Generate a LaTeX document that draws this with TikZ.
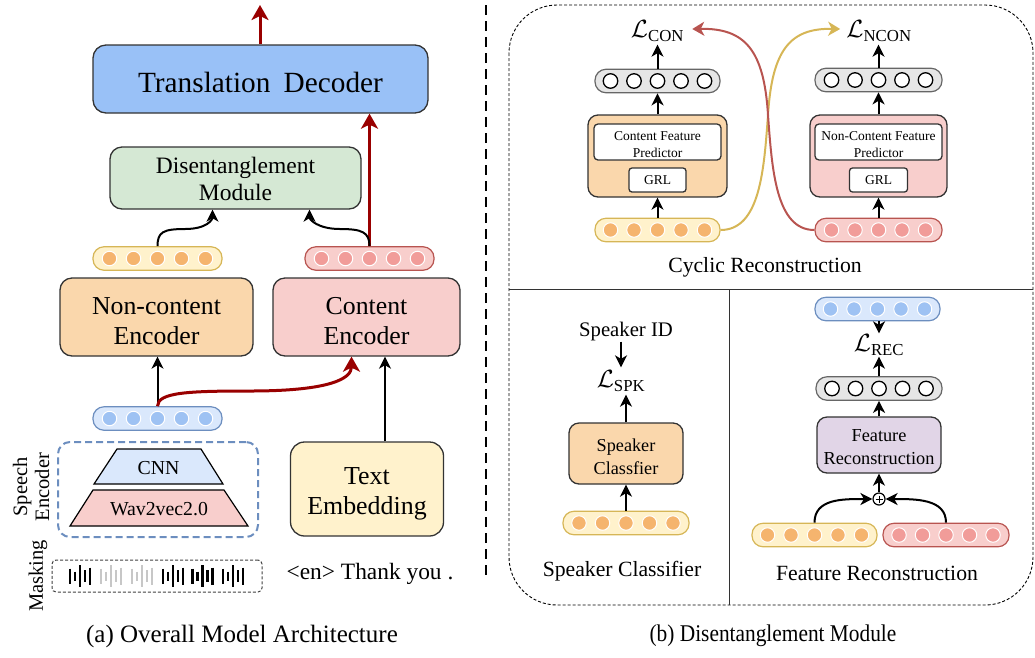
\documentclass[tikz,border=0pt]{standalone}
\usepackage{fontspec}
\setmainfont{Liberation Serif}
\usetikzlibrary{arrows.meta,calc}
\definecolor{decblue}{HTML}{99C1F7}
\definecolor{dgreen}{HTML}{D5E8D4}
\definecolor{borange}{HTML}{FAD7AC}
\definecolor{bpink}{HTML}{F8CECC}
\definecolor{byel}{HTML}{FFF2CC}
\definecolor{bpurple}{HTML}{E1D5E7}
\definecolor{lblue}{HTML}{DAE8FC}
\definecolor{yelD}{HTML}{D6B656}
\definecolor{pinkD}{HTML}{B85450}
\definecolor{blueD}{HTML}{6C8EBF}
\definecolor{grayF}{HTML}{E6E6E6}
\definecolor{grayD}{HTML}{666666}
\definecolor{cyel}{HTML}{F5B46E}
\definecolor{cpink}{HTML}{F19C99}
\definecolor{cblue}{HTML}{9EC2F3}
\definecolor{dred}{HTML}{990000}
\definecolor{boxline}{HTML}{333333}
\newcommand\featvec[5]{%
  \node[vecbox,#3vec,minimum width=#4] (#1) at (#2) {};
  \foreach \k [count=\c] in {-2,...,2}{\node[dot,#3dot] (#1-\c) at ($(#1.center)+(\k*#5,0)$) {};}
}
\newcommand\wavegroup[3]{% x, color, name
  \begin{scope}[shift={(#1,576)},line width=2.4pt,draw=#2]
    \draw (0,-7.5) -- (0,7.5);
    \draw (5,-4.5) -- (5,4.5);
    \draw (10,-11) -- (10,11);
    \draw (15,-6) -- (15,6);
    \draw (20,-8.5) -- (20,8.5);
  \end{scope}
  \coordinate (#3) at (#1+10,576);
}
\begin{document}
\begin{tikzpicture}[x=1pt,y=-1pt,
  blk/.style={draw=boxline,line width=1.3pt,rounded corners=10pt,align=center,inner sep=0pt},
  btxt/.style={align=center,inner sep=0pt},
  vecbox/.style={rounded corners=11pt,minimum height=23.5pt,inner sep=0pt,line width=1.2pt},
  yvec/.style={fill=byel,draw=yelD},
  pvec/.style={fill=bpink,draw=pinkD},
  bvec/.style={fill=lblue,draw=blueD},
  gvec/.style={fill=grayF,draw=grayD},
  dot/.style={circle,inner sep=0pt,minimum size=14.5pt},
  ydot/.style={fill=cyel,draw=white,line width=1pt},
  pdot/.style={fill=cpink,draw=white,line width=1pt},
  bdot/.style={fill=cblue,draw=white,line width=1pt},
  gdot/.style={fill=white,draw=black,line width=1.3pt},
  arr/.style={line width=2pt,-{Stealth[length=12pt,width=12pt,inset=3.5pt]}},
  rarr/.style={draw=dred,line width=3pt,-{Stealth[length=15pt,width=17pt,inset=4pt]}},
  carr/.style={line width=2pt,-{Stealth[length=12pt,width=14pt,inset=3.5pt]}},
  lab/.style={inner sep=0pt,font=\fontsize{21.7}{26}\selectfont},
  loss/.style={inner sep=3pt,font=\fontsize{24}{28}\selectfont},
]
\useasboundingbox (0,0) rectangle (1035,657);

% ================= LEFT PANEL =================
\node[blk,fill=decblue,rounded corners=13pt,minimum width=335pt,minimum height=68pt] (dec) at (260.5,79) {};
\node[btxt,font=\fontsize{29.3}{34}\selectfont] (dect) at (260.5,82) {Translation\hspace{0.45em}Decoder};
\coordinate (out) at (260,5);
\draw[rarr] (dec.north -| out) -- (out);

\node[blk,fill=dgreen,rounded corners=12pt,minimum width=251pt,minimum height=62pt] (dis) at (235.5,178) {};
\node[btxt,font=\fontsize{23.5}{27}\selectfont] (dist) at (235.5,179) {Disentanglement\\Module};

\featvec{yv1}{157.5,258.5}{y}{129pt}{24}
\featvec{pv1}{369.5,258.5}{p}{129pt}{24}

\node[blk,fill=borange,rounded corners=12pt,minimum width=193pt,minimum height=78pt] (nce) at (156.5,317) {};
\node[btxt,font=\fontsize{25.8}{30}\selectfont] (ncet) at (156.5,321) {Non-content\\Encoder};
\node[blk,fill=bpink,rounded corners=12pt,minimum width=187pt,minimum height=78pt] (ce) at (366.5,317) {};
\node[btxt,font=\fontsize{25.8}{30}\selectfont] (cet) at (366.5,321) {Content\\Encoder};

\draw[rarr] (pv1.north) -- (pv1.north |- dec.south);
\draw[arr] (yv1.north) .. controls +(0,-14) and +(-22,0) .. (185,229) .. controls +(22,0) and +(0,10) .. ($(dis.south)+(-23,0)$);
\draw[arr] (pv1.north) .. controls +(0,-14) and +(22,0) .. (340,229) .. controls +(-22,0) and +(0,10) .. ($(dis.south)+(74,0)$);

\featvec{bv}{157.5,418.5}{b}{129pt}{24}
\draw[arr] (bv.north) -- (bv.north |- nce.south);
\draw[rarr] (bv.north) .. controls +(0,-14) and +(-60,0) .. (250,391) .. controls +(80,0) and +(0,22) .. ($(ce.south)+(-15,0)$);

% speech encoder
\node[draw=blueD,dashed,dash pattern=on 7pt off 4pt,line width=2pt,rounded corners=12pt,minimum width=200pt,minimum height=95pt] (spenc) at (158,489.5) {};
\filldraw[fill=lblue,draw=black,line width=1.2pt] (117,449) -- (201,449) -- (223,484) -- (94,484) -- cycle;
\node[inner sep=0pt,font=\fontsize{19.8}{23}\selectfont] (cnn) at (158.5,468) {CNN};
\filldraw[fill=bpink,draw=black,line width=1.2pt] (93,490) -- (224,490) -- (248,526) -- (70,526) -- cycle;
\node[inner sep=0pt,font=\fontsize{19.8}{23}\selectfont] (w2v) at (159,509) {Wav2vec2.0};
\node[rotate=90,align=center,inner sep=0pt,font=\fontsize{20.5}{22}\selectfont] (splab) at (31,487) {Speech\\Encoder};
\node[rotate=90,inner sep=0pt,font=\fontsize{20.5}{22}\selectfont] (masklab) at (38,576) {Masking};

% masking
\node[draw=black!75,dashed,dash pattern=on 3pt off 2pt,line width=1pt,rounded corners=4pt,minimum width=210pt,minimum height=32pt] (mask) at (157,576) {};
\wavegroup{70}{black}{w1}
\wavegroup{101}{black!22}{w2}
\wavegroup{132}{black!22}{w3}
\wavegroup{163}{black}{w4}
\wavegroup{192.5}{black}{w5}
\wavegroup{223}{black}{w6}

% text embedding
\node[blk,fill=byel,rounded corners=14pt,minimum width=153pt,minimum height=94pt] (te) at (367,489) {};
\node[btxt,font=\fontsize{25.9}{30}\selectfont] (tet) at (367,494) {Text\\Embedding};
\path ($(te.north)+(18,0)$) coordinate (teo);
\draw[arr] (teo) -- (teo |- ce.south);
\node[inner sep=0pt,font=\fontsize{23.4}{26}\selectfont] (txt) at (370,574) {<en> Thank you .};

\node[inner sep=0pt,font=\fontsize{25}{29}\selectfont] (capa) at (242,636) {(a) Overall Model Architecture};

% separator
\coordinate (sepT) at (486,5);
\coordinate (sepB) at (486,580);
\draw[line width=1.5pt,dash pattern=on 10pt off 6pt] (sepT) -- (sepB);

% ================= RIGHT PANEL =================
\draw[line width=0.9pt,dash pattern=on 3pt off 2pt,rounded corners=48pt] (509,5) rectangle (1033,605);
\coordinate (hl) at (509,289);
\coordinate (hr) at (1033,289);
\coordinate (vb) at (729,605);
\draw[line width=1pt,black!80] (hl) -- (hr);
\draw[line width=1pt,black!80] (hl -| vb) -- (vb);

% cyclic reconstruction - content
\node[blk,fill=borange,minimum width=139pt,minimum height=82pt] (cbox) at (657.5,156) {};
\node[blk,fill=white,rounded corners=4pt,minimum width=127pt,minimum height=36pt] (cin) at (657.5,142) {};
\node[btxt,font=\fontsize{13.5}{17}\selectfont] (cint) at (657.5,144.5) {Content Feature\\Predictor};
\node[blk,fill=white,rounded corners=3pt,minimum width=57pt,minimum height=24pt,font=\fontsize{13.5}{16}\selectfont] (cgrl) at (657.5,180) {GRL};
\featvec{cg}{657.5,81}{g}{125pt}{23.5}
\featvec{cy}{657.5,230}{y}{125pt}{23.5}
\node[loss] (lcon) at (657.5,31) {$\mathcal{L}_{\mathrm{CON}}$};
\draw[arr] (cy.north) -- (cy.north |- cbox.south);
\draw[arr] (cbox.north) -- (cbox.north |- cg.south);
\draw[arr] (cg.north) -- (cg.north |- lcon.south);

% cyclic reconstruction - non-content
\node[blk,fill=bpink,minimum width=137pt,minimum height=82pt] (pbox) at (878.5,156) {};
\node[blk,fill=white,rounded corners=4pt,minimum width=127pt,minimum height=36pt] (pin) at (878.5,142) {};
\node[btxt,font=\fontsize{13.5}{17}\selectfont] (pint) at (878.5,144.5) {Non-Content Feature\\Predictor};
\node[blk,fill=white,rounded corners=3pt,minimum width=58pt,minimum height=24pt,font=\fontsize{13.5}{16}\selectfont] (pgrl) at (878.5,180) {GRL};
\featvec{pg}{878.5,80}{g}{127pt}{23.5}
\featvec{pp}{878.5,230}{p}{127pt}{23.5}
\node[loss] (lncon) at (879,31) {$\mathcal{L}_{\mathrm{NCON}}$};
\draw[arr] (pp.north) -- (pp.north |- pbox.south);
\draw[arr] (pbox.north) -- (pbox.north |- pg.south);
\draw[arr] (pg.north) -- (pg.north |- lncon.south);

\draw[carr,draw=yelD] (cy.east) .. controls (760,230) and (764,170) .. (768,115) .. controls (772,50) and (790,28) .. ($(lncon.west)+(-3,-2)$);
\draw[carr,draw=pinkD] (pp.west) .. controls (776,230) and (772,170) .. (768,115) .. controls (764,50) and (745,28) .. ($(lcon.east)+(5,-2)$);

\node[lab] (cyc) at (765,267) {Cyclic Reconstruction};

% speaker classifier
\node[inner sep=0pt,font=\fontsize{20.7}{24}\selectfont] (spkid) at (626,332) {Speaker ID};
\node[loss] (lspk) at (621,381) {$\mathcal{L}_{\mathrm{SPK}}$};
\draw[arr] (spkid.south -| lspk) -- (lspk.north);
\node[blk,fill=borange,minimum width=114pt,minimum height=61pt] (sbox) at (626,453.5) {};
\node[btxt,font=\fontsize{18.2}{23}\selectfont] (sboxt) at (626,456.5) {Speaker\\Classfier};
\featvec{sy}{626,523}{y}{126pt}{23.5}
\draw[arr] (sy.north) -- (sbox.south);
\draw[arr] (sbox.north) -- (sbox.north |- lspk.south);
\node[lab] (spklab) at (622,571) {Speaker Classifier};

% feature reconstruction
\featvec{rb}{877.5,309}{b}{125pt}{23.5}
\node[loss,inner sep=1pt] (lrec) at (879,345) {$\mathcal{L}_{\mathrm{REC}}$};
\featvec{rg}{879,388.5}{g}{126pt}{23.5}
\node[blk,fill=bpurple,minimum width=124pt,minimum height=56pt] (fbox) at (879,445) {};
\node[btxt,font=\fontsize{18.3}{23}\selectfont] (fboxt) at (879,447.5) {Feature\\Reconstruction};
\node[circle,draw=black,line width=1.2pt,fill=white,inner sep=0pt,minimum size=12pt,
  path picture={\draw[line width=1pt] ($(path picture bounding box.center)+(-3.5,0)$) -- ($(path picture bounding box.center)+(3.5,0)$) ($(path picture bounding box.center)+(0,-3.5)$) -- ($(path picture bounding box.center)+(0,3.5)$);}] (plus) at (879,499) {};
\featvec{ry}{814.5,535}{y}{125pt}{23.5}
\featvec{rp}{946,535}{p}{126pt}{23.5}
\draw[arr] (rb.south -| lrec) -- (lrec.north);
\draw[arr] (rg.north -| lrec) -- (lrec.south);
\draw[arr] (fbox.north) -- (fbox.north |- rg.south);
\draw[arr] (plus.north) -- (plus.north |- fbox.south);
\draw[arr] (ry.north) .. controls +(0,-24) and +(-30,0) .. (plus.west);
\draw[arr] (rp.north) .. controls +(0,-24) and +(30,0) .. (plus.east);
\node[lab] (frlab) at (877,573) {Feature Reconstruction};

\node[inner sep=0pt,xscale=0.89,font=\fontsize{24}{28}\selectfont] (capb) at (773,636) {(b) Disentanglement Module};
\end{tikzpicture}
\end{document}
